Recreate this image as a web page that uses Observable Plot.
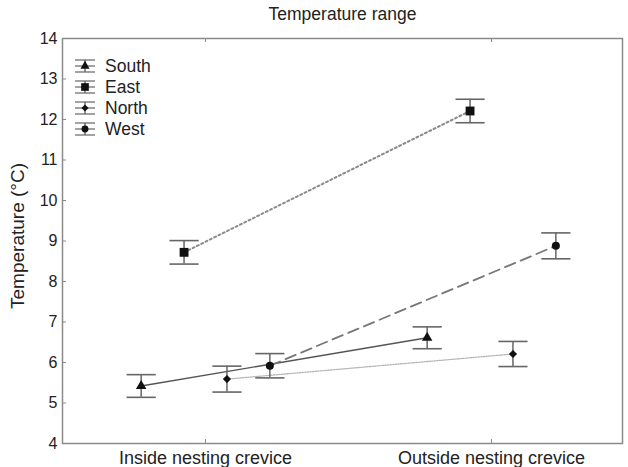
<!DOCTYPE html>
<html>
<head>
<meta charset="utf-8">
<script src="https://cdn.jsdelivr.net/npm/d3@7"></script>
<script src="https://cdn.jsdelivr.net/npm/@observablehq/plot@0.6"></script>
<style>
  html, body { margin: 0; padding: 0; background: #fff; }
  #chart { width: 628px; height: 467px; overflow: hidden; }
</style>
</head>
<body>
<div id="chart"></div>
<script>
// ---- data ----
const categories = ["Inside nesting crevice", "Outside nesting crevice"];
const series = ["South", "East", "North", "West"];
const insideMean = [5.42, 8.72, 5.59, 5.92];
const insideErr = [0.28, 0.29, 0.32, 0.30];
const outsideMean = [6.61, 12.21, 6.21, 8.88];
const outsideErr = [0.27, 0.29, 0.31, 0.32];
const yTicks = [4, 5, 6, 7, 8, 9, 10, 11, 12, 13, 14];
const titleText = "Temperature range";
const yTitle = "Temperature (°C)";

// ---- styles ----
const style = {
  South: {symbol: "triangle", r: 3.9, stroke: "#555", strokeWidth: 1.4, dash: null},
  East:  {symbol: "square",   r: 5.0, stroke: "#8a8a8a", strokeWidth: 2, dash: "2,2.8"},
  North: {symbol: "diamond2", r: 3.7, stroke: "#b4b4b4", strokeWidth: 1.3, dash: "1.3,1.3"},
  West:  {symbol: "circle",   r: 4.0, stroke: "#777", strokeWidth: 1.8, dash: "11,6"}
};
const dodge = 0.15;
const capHalf = 0.051;

const means = [insideMean, outsideMean];
const errs = [insideErr, outsideErr];
const rows = [];
series.forEach((s, i) => {
  categories.forEach((c, j) => {
    const m = means[j][i], e = errs[j][i];
    rows.push({series: s, cat: j, x: j + (i - 1.5) * dodge, mean: m, lo: m - e, hi: m + e});
  });
});

const W = 628, H = 467, mL = 62, mR = 6, mT = 38, mB = 24;
const frameW = W - mL - mR, frameH = H - mT - mB;
const font = "'Liberation Sans', Arial, Helvetica, sans-serif";

const marks = [
  Plot.frame({stroke: "#8a8a8a", strokeWidth: 1.5}),
  // inward ticks
  Plot.tickY(yTicks.slice(1, -1), {y: d => d, stroke: "#8a8a8a", insetRight: frameW - 4}),
  Plot.tickX([0, 1], {x: d => d, stroke: "#8a8a8a", insetTop: frameH - 4}),
  Plot.tickX([0, 1], {x: d => d, stroke: "#8a8a8a", insetBottom: frameH - 4}),
  Plot.axisY({ticks: yTicks, tickSize: 0, tickPadding: 5, fontSize: 16, label: null, tickFormat: d => d}),
  Plot.axisX({ticks: [0, 1], tickSize: 0, tickPadding: 8, fontSize: 18, label: null, tickFormat: d => categories[d]}),
  Plot.text([titleText], {frameAnchor: "top", dy: -24, fontSize: 17.5, fill: "#222", textAnchor: "middle", lineAnchor: "middle"}),
  Plot.text([yTitle], {frameAnchor: "left", dx: -45, dy: -5, rotate: -90, fontSize: 19, fill: "#222",
    textAnchor: "middle", letterSpacing: "1px"})
];

series.forEach(s => {
  const st = style[s];
  const sub = rows.filter(d => d.series === s);
  marks.push(Plot.line(sub, {x: "x", y: "mean", stroke: st.stroke, strokeWidth: st.strokeWidth,
    strokeDasharray: st.dash || undefined}));
});
// error bars
marks.push(Plot.ruleX(rows, {x: "x", y1: "lo", y2: "hi", stroke: "#666", strokeWidth: 1.5}));
marks.push(Plot.link(rows, {x1: d => d.x - capHalf, x2: d => d.x + capHalf, y1: "hi", y2: "hi", stroke: "#666", strokeWidth: 1.6}));
marks.push(Plot.link(rows, {x1: d => d.x - capHalf, x2: d => d.x + capHalf, y1: "lo", y2: "lo", stroke: "#666", strokeWidth: 1.6}));
series.forEach(s => {
  const st = style[s];
  const sub = rows.filter(d => d.series === s);
  marks.push(Plot.dot(sub, {x: "x", y: "mean", symbol: () => st.symbol, r: st.r, fill: "#111", stroke: "none"}));
});

const chart = Plot.plot({
  width: W, height: H,
  marginLeft: mL, marginRight: mR, marginTop: mT, marginBottom: mB,
  style: {fontFamily: font, background: "#fff", color: "#222", overflow: "visible"},
  x: {domain: [-0.5, 1.458]},
  y: {domain: [4, 14]},
  symbol: {domain: ["triangle", "square", "diamond2", "circle"], range: ["triangle", "square", "diamond2", "circle"]},
  marks
});
document.getElementById("chart").appendChild(chart);

// ---- legend (inside the frame, top-left) ----
const svg = d3.select(chart);
const lg = svg.append("g").attr("transform", `translate(${mL + 23},${mT + 28})`);
const symMap = {triangle: d3.symbolTriangle, square: d3.symbolSquare, diamond2: d3.symbolDiamond2, circle: d3.symbolCircle};
series.forEach((s, i) => {
  const st = style[s];
  const g = lg.append("g").attr("transform", `translate(0,${i * 21})`);
  [-6, 0, 6].forEach(y => g.append("line").attr("x1", -10).attr("x2", 10).attr("y1", y).attr("y2", y)
    .attr("stroke", "#7a7a7a").attr("stroke-width", 1.4));
  g.append("line").attr("x1", 0).attr("x2", 0).attr("y1", -6).attr("y2", 6).attr("stroke", "#666").attr("stroke-width", 1.4);
  g.append("path").attr("d", d3.symbol(symMap[st.symbol], Math.PI * st.r * st.r * 0.75)()).attr("fill", "#111");
  g.append("text").attr("x", 20).attr("y", 0).attr("dy", "0.36em").attr("font-size", 17.5)
    .attr("text-anchor", "start").attr("font-family", font).attr("fill", "#222").text(s);
});
</script>
</body>
</html>
